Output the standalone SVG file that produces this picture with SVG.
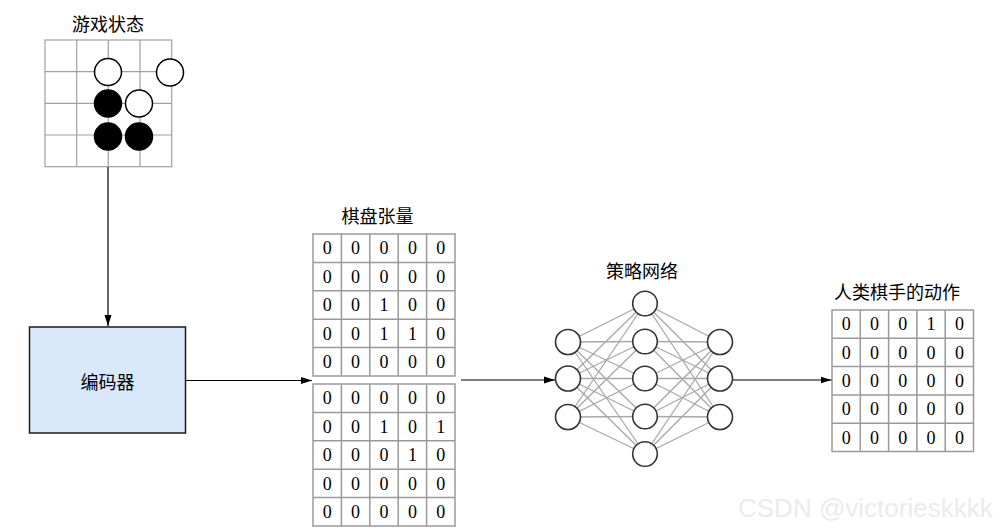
<svg xmlns="http://www.w3.org/2000/svg" width="1006" height="530" viewBox="0 0 1006 530">
<style>
.title{font-family:"Noto Sans CJK SC","Noto Sans",sans-serif;font-size:18px;fill:#000;text-anchor:middle;dominant-baseline:central}
.num{font-family:"Liberation Serif",serif;font-size:18px;fill:#000;text-anchor:middle}
.grid{fill:#fff;stroke:#9a9a9a;stroke-width:1.5}
.gl{stroke:#9a9a9a;stroke-width:1.5;fill:none}
.board{stroke:#a0a0a0;stroke-width:1.2;fill:none}
.wst{fill:#fff;stroke:#000;stroke-width:1.5}
.bst{fill:#000;stroke:#000;stroke-width:1.5}
.neuron{fill:#fff;stroke:#333;stroke-width:1.6}
.syn{stroke:#a8a8a8;stroke-width:1.3}
.conn{stroke:#000;stroke-width:1.2;fill:none}
</style>
<defs>
<marker id="arr" markerUnits="userSpaceOnUse" markerWidth="12" markerHeight="8" refX="11" refY="4" orient="auto">
<path d="M0,0.5 L11,4 L0,7.5 z" fill="#000"/>
</marker>
</defs>

<g id="game-state">
<text class="title" x="108" y="23">游戏状态</text>
<rect class="board" x="45" y="40" width="126.7" height="126.7"/>
<path class="board" d="M76.7,40V166.7M108.3,40V166.7M140,40V166.7M45,71.7H171.7M45,103.3H171.7M45,135H171.7"/>
<circle class="wst" cx="108" cy="72" r="13.5"/>
<circle class="wst" cx="170" cy="72.5" r="13.5"/>
<circle class="bst" cx="108" cy="103.5" r="13.5"/>
<circle class="wst" cx="139" cy="103.5" r="13.5"/>
<circle class="bst" cx="108" cy="136.5" r="13.5"/>
<circle class="bst" cx="139" cy="136.5" r="13.5"/>
</g>

<g id="encoder">
<rect x="29.5" y="327" width="156" height="106" fill="#dae8fc" stroke="#1a1a1a" stroke-width="1.5"/>
<text class="title" x="107.5" y="381">编码器</text>
</g>

<g id="board-tensor">
<text class="title" x="377.5" y="215">棋盘张量</text>
<rect class="grid" x="313" y="234" width="142" height="142"/>
<path class="gl" d="M341.4,234V376M369.8,234V376M398.2,234V376M426.6,234V376M313,262.4H455M313,290.8H455M313,319.2H455M313,347.6H455"/>
<g class="num">
<text x="327.2" y="254.3">0</text><text x="355.6" y="254.3">0</text><text x="384" y="254.3">0</text><text x="412.4" y="254.3">0</text><text x="440.8" y="254.3">0</text>
<text x="327.2" y="282.7">0</text><text x="355.6" y="282.7">0</text><text x="384" y="282.7">0</text><text x="412.4" y="282.7">0</text><text x="440.8" y="282.7">0</text>
<text x="327.2" y="311.1">0</text><text x="355.6" y="311.1">0</text><text x="384" y="311.1">1</text><text x="412.4" y="311.1">0</text><text x="440.8" y="311.1">0</text>
<text x="327.2" y="339.5">0</text><text x="355.6" y="339.5">0</text><text x="384" y="339.5">1</text><text x="412.4" y="339.5">1</text><text x="440.8" y="339.5">0</text>
<text x="327.2" y="367.9">0</text><text x="355.6" y="367.9">0</text><text x="384" y="367.9">0</text><text x="412.4" y="367.9">0</text><text x="440.8" y="367.9">0</text>
</g>
<rect class="grid" x="313" y="384" width="142" height="142"/>
<path class="gl" d="M341.4,384V526M369.8,384V526M398.2,384V526M426.6,384V526M313,412.4H455M313,440.8H455M313,469.2H455M313,497.6H455"/>
<g class="num">
<text x="327.2" y="404.3">0</text><text x="355.6" y="404.3">0</text><text x="384" y="404.3">0</text><text x="412.4" y="404.3">0</text><text x="440.8" y="404.3">0</text>
<text x="327.2" y="432.7">0</text><text x="355.6" y="432.7">0</text><text x="384" y="432.7">1</text><text x="412.4" y="432.7">0</text><text x="440.8" y="432.7">1</text>
<text x="327.2" y="461.1">0</text><text x="355.6" y="461.1">0</text><text x="384" y="461.1">0</text><text x="412.4" y="461.1">1</text><text x="440.8" y="461.1">0</text>
<text x="327.2" y="489.5">0</text><text x="355.6" y="489.5">0</text><text x="384" y="489.5">0</text><text x="412.4" y="489.5">0</text><text x="440.8" y="489.5">0</text>
<text x="327.2" y="517.9">0</text><text x="355.6" y="517.9">0</text><text x="384" y="517.9">0</text><text x="412.4" y="517.9">0</text><text x="440.8" y="517.9">0</text>
</g>
</g>

<g id="policy-network">
<text class="title" x="642" y="270">策略网络</text>
<g class="syn">
<line x1="568" y1="342" x2="645" y2="303.5"/><line x1="568" y1="342" x2="645" y2="341.5"/><line x1="568" y1="342" x2="645" y2="378.5"/><line x1="568" y1="342" x2="645" y2="416.5"/><line x1="568" y1="342" x2="645" y2="454"/>
<line x1="568" y1="378.5" x2="645" y2="303.5"/><line x1="568" y1="378.5" x2="645" y2="341.5"/><line x1="568" y1="378.5" x2="645" y2="378.5"/><line x1="568" y1="378.5" x2="645" y2="416.5"/><line x1="568" y1="378.5" x2="645" y2="454"/>
<line x1="568" y1="417" x2="645" y2="303.5"/><line x1="568" y1="417" x2="645" y2="341.5"/><line x1="568" y1="417" x2="645" y2="378.5"/><line x1="568" y1="417" x2="645" y2="416.5"/><line x1="568" y1="417" x2="645" y2="454"/>
<line x1="720" y1="342" x2="645" y2="303.5"/><line x1="720" y1="342" x2="645" y2="341.5"/><line x1="720" y1="342" x2="645" y2="378.5"/><line x1="720" y1="342" x2="645" y2="416.5"/><line x1="720" y1="342" x2="645" y2="454"/>
<line x1="720" y1="378.5" x2="645" y2="303.5"/><line x1="720" y1="378.5" x2="645" y2="341.5"/><line x1="720" y1="378.5" x2="645" y2="378.5"/><line x1="720" y1="378.5" x2="645" y2="416.5"/><line x1="720" y1="378.5" x2="645" y2="454"/>
<line x1="720" y1="417" x2="645" y2="303.5"/><line x1="720" y1="417" x2="645" y2="341.5"/><line x1="720" y1="417" x2="645" y2="378.5"/><line x1="720" y1="417" x2="645" y2="416.5"/><line x1="720" y1="417" x2="645" y2="454"/>
</g>
<circle class="neuron" cx="568" cy="342" r="12.5"/>
<circle class="neuron" cx="568" cy="378.5" r="12.5"/>
<circle class="neuron" cx="568" cy="417" r="12.5"/>
<circle class="neuron" cx="645" cy="303.5" r="12.3"/>
<circle class="neuron" cx="645" cy="341.5" r="12.3"/>
<circle class="neuron" cx="645" cy="378.5" r="12.3"/>
<circle class="neuron" cx="645" cy="416.5" r="12.3"/>
<circle class="neuron" cx="645" cy="454" r="12.3"/>
<circle class="neuron" cx="720" cy="342" r="12.5"/>
<circle class="neuron" cx="720" cy="378.5" r="12.5"/>
<circle class="neuron" cx="720" cy="417" r="12.5"/>
</g>

<g id="human-move">
<text class="title" x="897" y="291">人类棋手的动作</text>
<rect class="grid" x="832" y="310" width="141.5" height="141.5"/>
<path class="gl" d="M860.3,310V451.5M888.6,310V451.5M916.9,310V451.5M945.2,310V451.5M832,338.3H973.5M832,366.6H973.5M832,394.9H973.5M832,423.2H973.5"/>
<g class="num">
<text x="846.2" y="330.3">0</text><text x="874.5" y="330.3">0</text><text x="902.8" y="330.3">0</text><text x="931.1" y="330.3">1</text><text x="959.4" y="330.3">0</text>
<text x="846.2" y="358.6">0</text><text x="874.5" y="358.6">0</text><text x="902.8" y="358.6">0</text><text x="931.1" y="358.6">0</text><text x="959.4" y="358.6">0</text>
<text x="846.2" y="386.9">0</text><text x="874.5" y="386.9">0</text><text x="902.8" y="386.9">0</text><text x="931.1" y="386.9">0</text><text x="959.4" y="386.9">0</text>
<text x="846.2" y="415.2">0</text><text x="874.5" y="415.2">0</text><text x="902.8" y="415.2">0</text><text x="931.1" y="415.2">0</text><text x="959.4" y="415.2">0</text>
<text x="846.2" y="443.5">0</text><text x="874.5" y="443.5">0</text><text x="902.8" y="443.5">0</text><text x="931.1" y="443.5">0</text><text x="959.4" y="443.5">0</text>
</g>
</g>

<g id="connectors">
<line class="conn" x1="108" y1="167" x2="108" y2="326" marker-end="url(#arr)"/>
<line class="conn" x1="186" y1="380.5" x2="312" y2="380.5" marker-end="url(#arr)"/>
<line class="conn" x1="461" y1="380" x2="555" y2="380" marker-end="url(#arr)"/>
<line class="conn" x1="733" y1="380" x2="831.5" y2="380" marker-end="url(#arr)"/>
</g>

<text x="738" y="517" style="font-family:'Liberation Sans',Arial,sans-serif;font-size:26px;fill:#ebebeb">CSDN @victorieskkkk</text>
</svg>
